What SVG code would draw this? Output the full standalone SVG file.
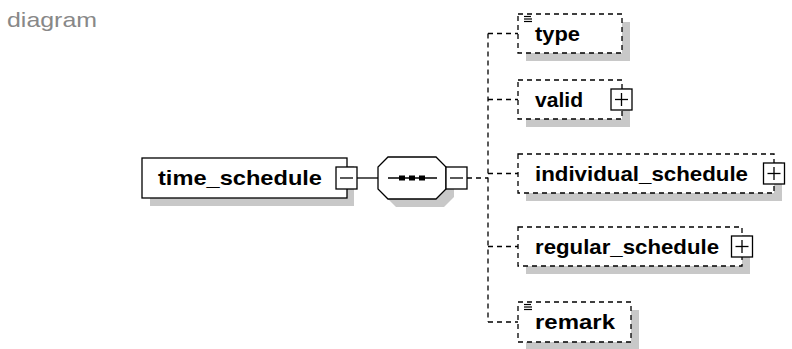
<svg xmlns="http://www.w3.org/2000/svg" width="792" height="349" viewBox="0 0 792 349">
<style>
.shadow{fill:#c8c8c8;stroke:none}
.box{fill:#fff;stroke:#000;stroke-width:1.3}
.dbox{fill:#fff;stroke:#000;stroke-width:1.3;stroke-dasharray:5,4}
.conn{fill:none;stroke:#000;stroke-width:1.3}
.dconn{fill:none;stroke:#000;stroke-width:1.3;stroke-dasharray:5,4}
.lbl{font-family:"Liberation Sans",Arial,sans-serif;font-weight:bold;font-size:21px;fill:#000}
.pm{fill:#fff;stroke:#000;stroke-width:1.3}
.pml{stroke:#000;stroke-width:1.3}
.icon{stroke:#000;stroke-width:1.2}
</style>
<rect width="792" height="349" fill="#fff"/>
<text x="7" y="27" font-family="'Liberation Sans',Arial,sans-serif" font-size="21" fill="#888888" textLength="90" lengthAdjust="spacingAndGlyphs">diagram</text>

<g id="connectors">
  <line class="conn" x1="357" y1="178" x2="378" y2="178"/>
  <line class="dconn" x1="467" y1="178" x2="488" y2="178"/>
  <line class="dconn" x1="488" y1="33.5" x2="488" y2="322"/>
  <line class="dconn" x1="488" y1="33.5" x2="518" y2="33.5"/>
  <line class="dconn" x1="488" y1="99.5" x2="518" y2="99.5"/>
  <line class="dconn" x1="488" y1="173.5" x2="518" y2="173.5"/>
  <line class="dconn" x1="488" y1="246.5" x2="518" y2="246.5"/>
  <line class="dconn" x1="488" y1="322" x2="518" y2="322"/>
</g>

<g id="time_schedule">
  <rect class="shadow" x="150" y="166" width="204" height="40"/>
  <rect class="box" x="142" y="158" width="205" height="40"/>
  <text class="lbl" x="158" y="185" textLength="164" lengthAdjust="spacingAndGlyphs">time_schedule</text>
  <rect class="pm" x="336" y="167" width="21" height="22"/>
  <line class="pml" x1="340" y1="178" x2="353" y2="178"/>
</g>

<g id="sequence">
  <polygon class="shadow" points="396,165 444,165 454,175 454,197 444,207 396,207 386,197 386,175"/>
  <polygon class="box" points="388,157 436,157 446,167 446,189 436,199 388,199 378,189 378,167"/>
  <line class="pml" x1="388" y1="178" x2="437" y2="178"/>
  <rect x="399" y="175.5" width="6" height="5" fill="#000"/>
  <rect x="409" y="175.5" width="6" height="5" fill="#000"/>
  <rect x="419" y="175.5" width="6" height="5" fill="#000"/>
  <rect class="pm" x="446" y="167" width="21" height="22"/>
  <line class="pml" x1="450" y1="178" x2="463" y2="178"/>
</g>

<g id="type">
  <rect class="shadow" x="526" y="22" width="104" height="39"/>
  <rect class="dbox" x="518" y="14" width="104" height="39"/>
  <line class="icon" x1="524" y1="16.5" x2="531" y2="16.5"/>
  <line class="icon" x1="524" y1="19" x2="532" y2="19"/>
  <line class="icon" x1="524" y1="21.5" x2="532" y2="21.5"/>
  <text class="lbl" x="535" y="41" textLength="45" lengthAdjust="spacingAndGlyphs">type</text>
</g>

<g id="valid">
  <rect class="shadow" x="526" y="88" width="104" height="39"/>
  <rect class="dbox" x="518" y="80" width="104" height="39"/>
  <text class="lbl" x="535" y="107" textLength="48" lengthAdjust="spacingAndGlyphs">valid</text>
  <rect class="pm" x="611" y="89" width="21" height="21"/>
  <line class="pml" x1="615" y1="99.5" x2="628" y2="99.5"/>
  <line class="pml" x1="621.5" y1="93" x2="621.5" y2="106"/>
</g>

<g id="individual_schedule">
  <rect class="shadow" x="526" y="162" width="256" height="39"/>
  <rect class="dbox" x="518" y="154" width="256" height="39"/>
  <text class="lbl" x="535" y="181" textLength="213" lengthAdjust="spacingAndGlyphs">individual_schedule</text>
  <rect class="pm" x="763.5" y="163" width="21" height="21"/>
  <line class="pml" x1="767.5" y1="173.5" x2="780.5" y2="173.5"/>
  <line class="pml" x1="774" y1="167" x2="774" y2="180"/>
</g>

<g id="regular_schedule">
  <rect class="shadow" x="526" y="235" width="224" height="39"/>
  <rect class="dbox" x="518" y="227" width="224" height="39"/>
  <text class="lbl" x="535" y="254" textLength="184" lengthAdjust="spacingAndGlyphs">regular_schedule</text>
  <rect class="pm" x="731.5" y="236" width="21" height="21"/>
  <line class="pml" x1="735.5" y1="246.5" x2="748.5" y2="246.5"/>
  <line class="pml" x1="742" y1="240" x2="742" y2="253"/>
</g>

<g id="remark">
  <rect class="shadow" x="526" y="310" width="113" height="40"/>
  <rect class="dbox" x="518" y="302" width="113" height="40"/>
  <line class="icon" x1="524" y1="304.5" x2="531" y2="304.5"/>
  <line class="icon" x1="524" y1="307" x2="532" y2="307"/>
  <line class="icon" x1="524" y1="309.5" x2="532" y2="309.5"/>
  <text class="lbl" x="535" y="329" textLength="80" lengthAdjust="spacingAndGlyphs">remark</text>
</g>
</svg>
